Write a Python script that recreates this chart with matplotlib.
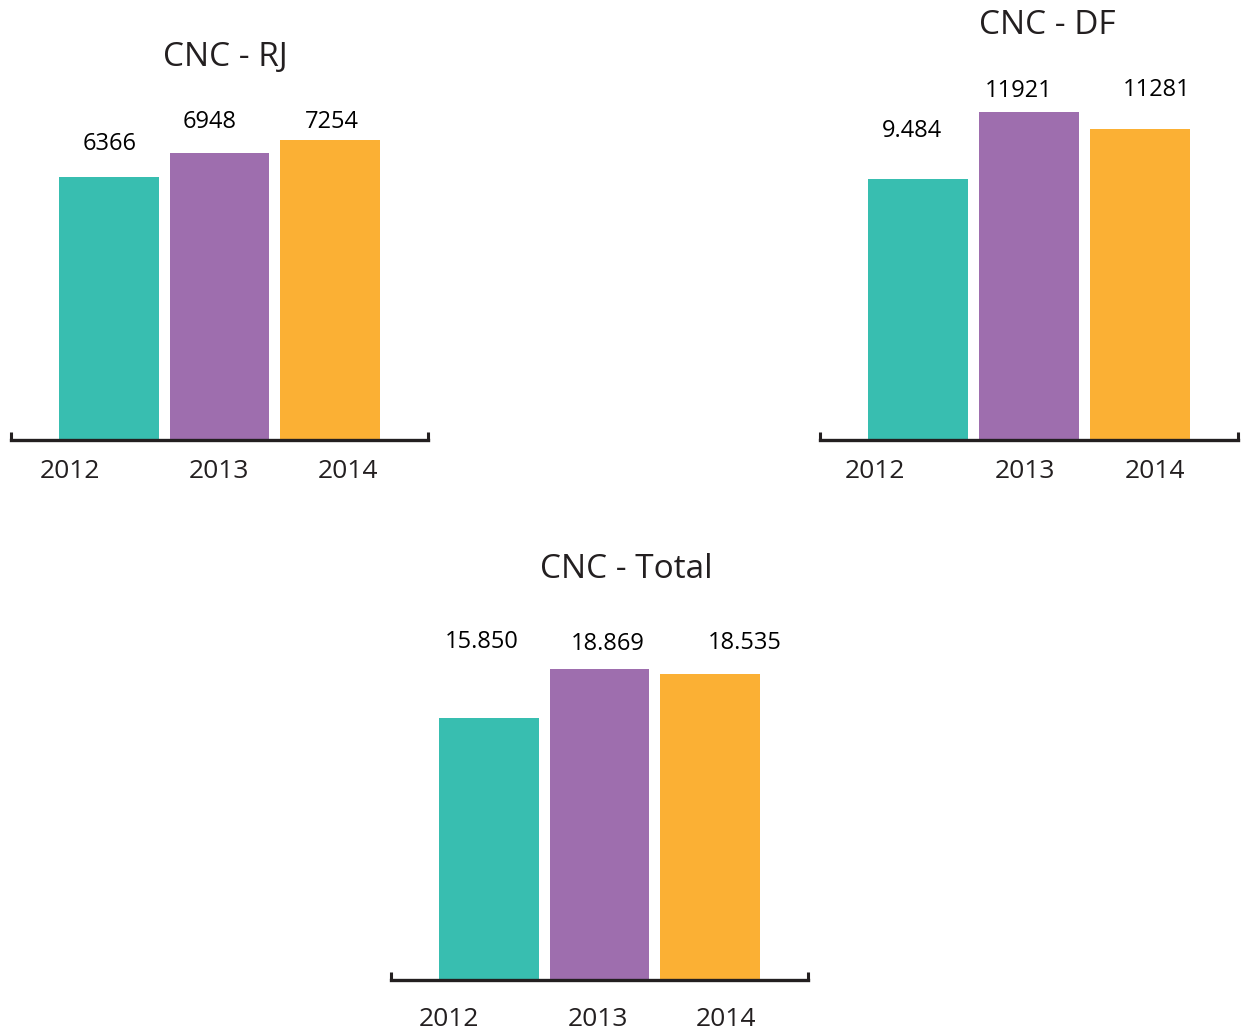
import matplotlib
matplotlib.use("Agg")
import matplotlib.pyplot as plt

# data
years = ["2012", "2013", "2014"]
rj_values = [6366, 6948, 7254]
df_values = [9484, 11921, 11281]
total_values = [15850, 18869, 18535]
rj_labels = ["6366", "6948", "7254"]
df_labels = ["9.484", "11921", "11281"]
total_labels = ["15.850", "18.869", "18.535"]

colors = ["#38BEB0", "#9E6EAE", "#FBB034"]
ink = "#231F20"

W, H = 1243, 1033
fig = plt.figure(figsize=(W / 100, H / 100), dpi=100)
fig.patch.set_facecolor("white")

# panel layout in pixels: left, right, baseline (from top), value per pixel
panels = [
    dict(title="CNC - RJ", values=rj_values, labels=rj_labels,
         left=11, right=428, base=440, scale=24.2,
         title_xy=(225, 57),
         val_off=[(1, 33), (-10, 31), (2, 18)],
         year_off=[(-39, -32), (-1, -32), (18, -32)]),
    dict(title="CNC - DF", values=df_values, labels=df_labels,
         left=820, right=1238, base=440, scale=36.3,
         title_xy=(1047, 25),
         val_off=[(-6, 48), (-10, 21), (17, 39)],
         year_off=[(-43, -32), (-4, -32), (15, -32)]),
    dict(title="CNC - Total", values=total_values, labels=total_labels,
         left=391, right=808, base=980, scale=60.6,
         title_xy=(626, 569),
         val_off=[(-7, 76), (8, 25), (35, 31)],
         year_off=[(-40, -39), (-2, -39), (16, -39)]),
]

AX_H = 400
half = 0.887

for p in panels:
    ax = fig.add_axes([p["left"] / W, (H - p["base"]) / H,
                       (p["right"] - p["left"]) / W, AX_H / H])
    ax.set_facecolor("none")
    x = range(len(years))
    bars = ax.bar(x, p["values"], width=0.905, color=colors, zorder=1)
    ax.set_xlim(-half, len(years) - 1 + half)
    ax.set_ylim(0, AX_H * p["scale"])

    for s in ["top", "left", "right"]:
        ax.spines[s].set_visible(False)
    ax.spines["bottom"].set_color(ink)
    ax.spines["bottom"].set_linewidth(2.4)
    ax.spines["bottom"].set_zorder(3)
    ax.set_yticks([])
    ax.set_xticks([-half, len(years) - 1 + half])
    ax.set_xticklabels([])
    ax.tick_params(axis="x", direction="in", length=6, width=2.2, color=ink)

    for i, b in enumerate(bars):
        dx, dy = p["val_off"][i]
        ax.annotate(p["labels"][i], xy=(b.get_x() + b.get_width() / 2, b.get_height()),
                    xytext=(dx, dy), textcoords="offset pixels",
                    ha="center", va="center", fontsize=17,
                    family="Open Sans", color="black")
        yx, yy = p["year_off"][i]
        ax.annotate(years[i], xy=(i, 0), xytext=(yx, yy), textcoords="offset pixels",
                    ha="center", va="center", fontsize=19, family="Open Sans",
                    color=ink, annotation_clip=False)

    tx, ty = p["title_xy"]
    fig.text(tx / W, 1 - ty / H, p["title"], ha="center", va="center",
             fontsize=24, family="Open Sans", color=ink)

fig.savefig("out.png", dpi=100)
